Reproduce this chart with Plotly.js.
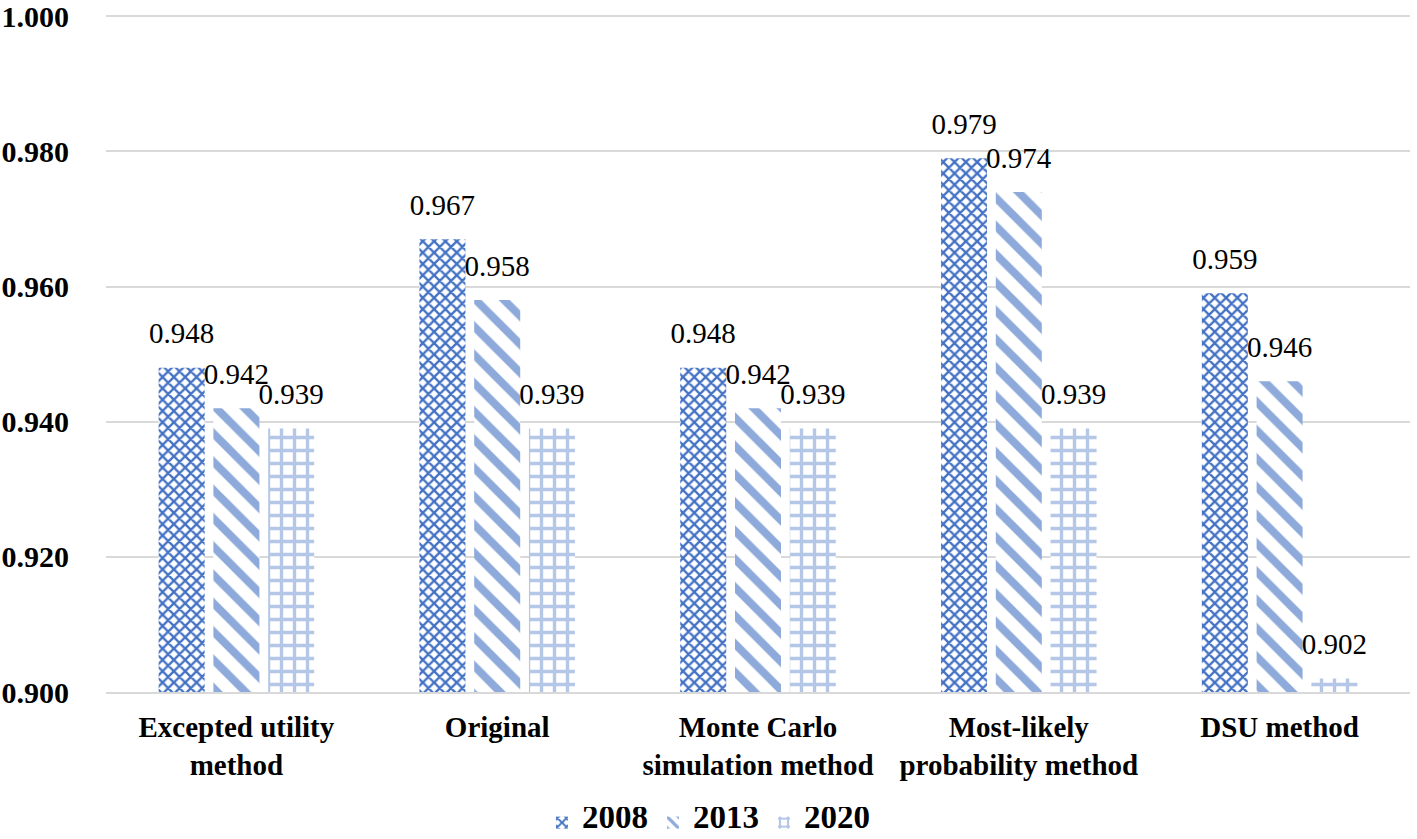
<!DOCTYPE html>
<html><head><meta charset="utf-8">
<script src="https://cdn.plot.ly/plotly-3.0.1.min.js"></script>
<style>html,body{margin:0;padding:0;background:#fff}</style>
</head><body>
<div id="chart" style="width:1417px;height:839px"></div>
<script>
const categories = ["Excepted utility<br>method", "Original", "Monte Carlo<br>simulation method", "Most-likely<br>probability method", "DSU method"];
const seriesNames = ["2008", "2013", "2020"];
const values2008 = [0.948, 0.967, 0.948, 0.979, 0.959];
const values2013 = [0.942, 0.958, 0.942, 0.974, 0.946];
const values2020 = [0.939, 0.939, 0.939, 0.939, 0.902];
const yTicks = [0.900, 0.920, 0.940, 0.960, 0.980, 1.000];

const serif = "Liberation Serif, Times New Roman, serif";
const styles = [
  {shape: "x", fg: "#4472c4", size: 8, solidity: 0.5},
  {shape: "\\", fg: "#8eaadb", size: 20, solidity: 0.4},
  {shape: "+", fg: "#b4c7e7", size: 13, solidity: 0.45}
];
const allVals = [values2008, values2013, values2020];
const traces = allVals.map((v, i) => ({
  type: "bar",
  name: "<span style='font-size:33px'>" + seriesNames[i] + "</span>",
  x: categories,
  y: v.map(a => a - 0.9),
  base: 0.9,
  text: v.map(a => a.toFixed(3)),
  texttemplate: "<span style='font-size:29px'>%{text}</span><br>\u00A0",
  textposition: "outside",
  constraintext: "none",
  cliponaxis: false,
  textfont: {family: serif, size: 14, color: "#000"},
  hoverinfo: "skip",
  marker: {
    color: styles[i].fg,
    line: {width: 0},
    pattern: {shape: styles[i].shape, fgcolor: styles[i].fg, bgcolor: "#ffffff", fgopacity: 1,
              size: styles[i].size, solidity: styles[i].solidity}
  }
}));

const layout = {
  width: 1417, height: 839,
  margin: {l: 106, r: 7, t: 15, b: 147},
  paper_bgcolor: "#fff", plot_bgcolor: "#fff",
  barmode: "group", bargap: 0.37, bargroupgap: 0.16,
  showlegend: true,
  legend: {orientation: "h", x: 0.5, xanchor: "center", xref: "container",
           y: 0, yanchor: "bottom", yref: "container",
           font: {family: serif, size: 14, color: "#000", weight: "bold"}},
  xaxis: {
    showgrid: false, showline: true, linecolor: "#d9d9d9", linewidth: 2,
    ticks: "", tickfont: {family: serif, size: 29, color: "#000", weight: "bold"},
    ticklabelstandoff: 8,
    automargin: false
  },
  yaxis: {
    range: [0.9, 1.0002], tickvals: yTicks, tickformat: ".3f",
    showgrid: true, gridcolor: "#d9d9d9", gridwidth: 2, zeroline: false, showline: false,
    ticks: "", ticklen: 0, tickfont: {family: serif, size: 30, color: "#000", weight: "bold"},
    ticklabelstandoff: 36, ticklabeloverflow: "allow",
    automargin: false
  }
};
Plotly.newPlot("chart", traces, layout, {displayModeBar: false, staticPlot: true});
</script>
</body></html>
